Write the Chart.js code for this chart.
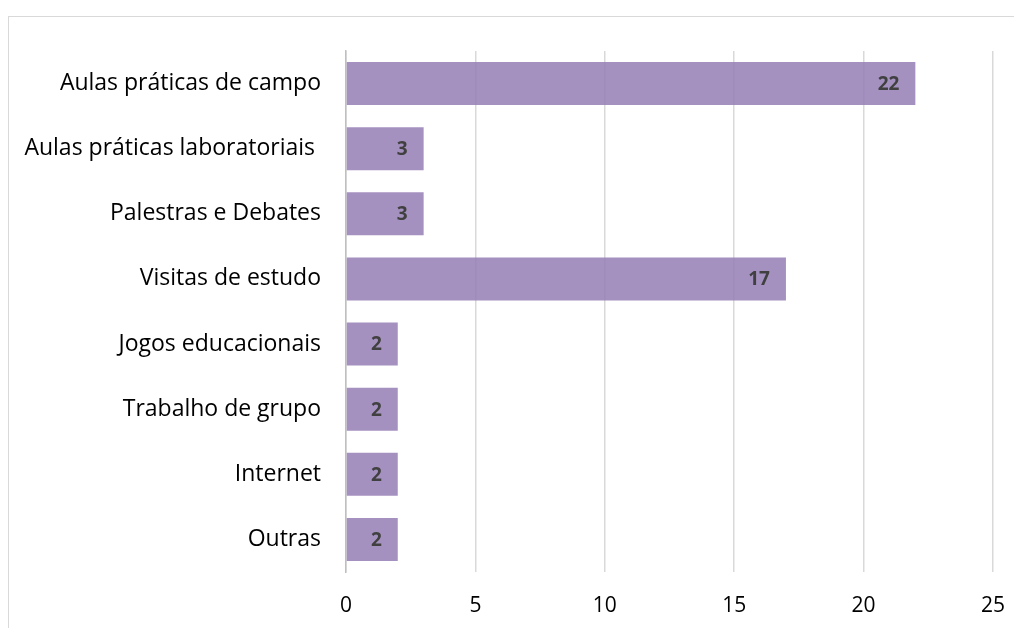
<!DOCTYPE html>
<html>
<head>
<meta charset="utf-8">
<script src="https://cdn.jsdelivr.net/npm/chart.js@4"></script>
<style>
    html, body { margin: 0; padding: 0; background: #fff; overflow: hidden; }
    #wrap { position: relative; width: 1014px; height: 628px; overflow: hidden; }
    #frame { position: absolute; left: 8px; top: 16px; width: 1030px; height: 640px; border: 1.5px solid #d9d9d9; box-sizing: border-box; }
    canvas { position: absolute; left: 0; top: 0; }
</style>
</head>
<body>
<div id="wrap">
    <div id="frame"></div>
    <canvas id="chart" width="1026" height="628"></canvas>
</div>
<script>
// Data
const categories = [
    "Aulas práticas de campo",
    "Aulas práticas laboratoriais ",
    "Palestras e Debates",
    "Visitas de estudo",
    "Jogos educacionais",
    "Trabalho de grupo",
    "Internet",
    "Outras",
];
const values = [22, 3, 3, 17, 2, 2, 2, 2];
const tickValues = [0, 5, 10, 15, 20, 25];

const fontFamily = "'Open Sans', Lato, sans-serif";

// Draws the value inside the end of each bar
const barValueLabels = {
    id: "barValueLabels",
    afterDatasetsDraw(chart) {
        const ctx = chart.ctx;
        const meta = chart.getDatasetMeta(0);
        ctx.save();
        ctx.font = "bold 19px " + fontFamily;
        ctx.fillStyle = "#404040";
        ctx.textAlign = "right";
        ctx.textBaseline = "middle";
        meta.data.forEach((bar, i) => {
            ctx.fillText(String(values[i]), bar.x - 16, bar.y + 1);
        });
        ctx.restore();
    },
};

new Chart(document.getElementById("chart").getContext("2d"), {
    type: "bar",
    data: {
        labels: categories,
        datasets: [{
            data: values,
            backgroundColor: "rgba(149, 126, 181, 0.85)",
            borderWidth: 0,
            categoryPercentage: 1,
            barPercentage: 0.66,
        }],
    },
    options: {
        indexAxis: "y",
        responsive: false,
        animation: false,
        layout: { padding: { top: 51, right: 2, left: 0, bottom: 0 } },
        plugins: {
            legend: { display: false },
            tooltip: { enabled: false },
        },
        scales: {
            x: {
                min: 0,
                max: 25,
                afterBuildTicks: scale => {
                    scale.ticks = tickValues.map(v => ({ value: v }));
                },
                grid: { color: "#d9d9d9", lineWidth: 1.5, drawTicks: false },
                border: { display: false },
                ticks: { color: "#000", font: { family: fontFamily, size: 21 }, padding: 21 },
                afterFit: scale => { scale.height = 56; },
            },
            y: {
                grid: { display: false, drawTicks: false },
                border: { display: true, color: "#bfbfbf", width: 1.5 },
                ticks: { color: "#000", font: { family: fontFamily, size: 23 }, padding: 25 },
                afterFit: scale => { scale.width = 346; },
            },
        },
    },
    plugins: [barValueLabels],
});
</script>
</body>
</html>
